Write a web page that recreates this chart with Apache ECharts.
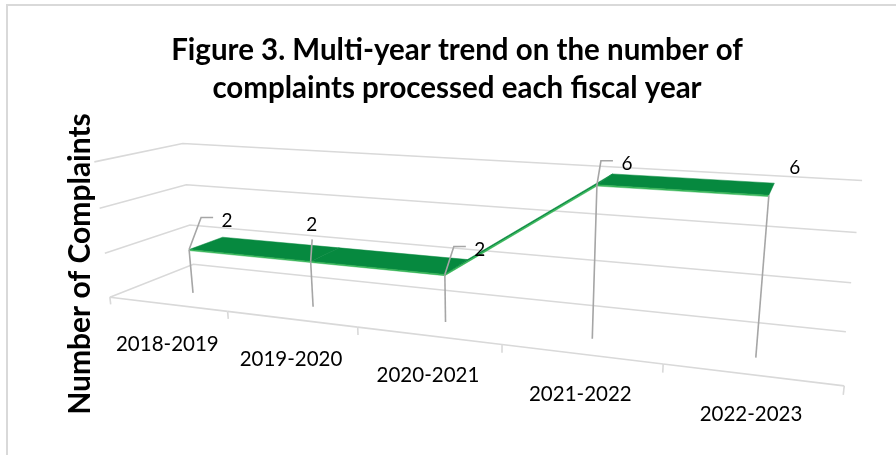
<!DOCTYPE html>
<html>
<head>
<meta charset="utf-8">
<script src="https://cdn.jsdelivr.net/npm/echarts@6/dist/echarts.min.js"></script>
<style>
  html, body { margin: 0; padding: 0; background: #ffffff; }
  #chart { width: 896px; height: 455px; }
</style>
</head>
<body>
<div id="chart"></div>
<script>
// ---- data ----
const categories = ['2018-2019', '2019-2020', '2020-2021', '2021-2022', '2022-2023'];
const complaints = [2, 2, 2, 6, 6];
const valueTicks = [0, 2, 4, 6];
const chartTitle = 'Figure 3. Multi-year trend on the number of\ncomplaints processed each fiscal year';
const valueAxisTitle = 'Number of Complaints';

// ---- 3D view ----
// The plot box uses unit coordinates: X across the categories, Y up the value
// axis, Z from the front of the floor (0) to the back wall (1). These are the
// screen positions of the box corners; a perspective matrix is fitted to them.
const boxCorners = [
  [0, 0, 0, 110, 297],
  [0, 0, 1, 193, 265],
  [0, 1, 0, 94, 162],
  [0, 1, 1, 183, 143],
  [1, 0, 1, 846, 331],
  [1, 1, 1, 862, 181],
  [1, 0, 0, 845, 386],
  [0.2, 0, 0, 228, 311],
  [0.4, 0, 0, 358, 327],
  [0.6, 0, 0, 502, 345],
  [0.8, 0, 0, 662, 364]
];

function fitPerspective(pairs) {
  const N = 11;
  const M = [];
  for (let i = 0; i < N; i++) M.push(new Array(N + 1).fill(0));
  const add = (r, b) => {
    for (let i = 0; i < N; i++) {
      for (let j = 0; j < N; j++) M[i][j] += r[i] * r[j];
      M[i][N] += r[i] * b;
    }
  };
  pairs.forEach(([X, Y, Z, u, v]) => {
    add([X, Y, Z, 1, 0, 0, 0, 0, -u * X, -u * Y, -u * Z], u);
    add([0, 0, 0, 0, X, Y, Z, 1, -v * X, -v * Y, -v * Z], v);
  });
  for (let c = 0; c < N; c++) {
    let piv = c;
    for (let r = c + 1; r < N; r++) if (Math.abs(M[r][c]) > Math.abs(M[piv][c])) piv = r;
    [M[c], M[piv]] = [M[piv], M[c]];
    for (let r = 0; r < N; r++) {
      if (r === c) continue;
      const f = M[r][c] / M[c][c];
      for (let k = c; k <= N; k++) M[r][k] -= f * M[c][k];
    }
  }
  return M.map((row, i) => row[N] / row[i]);
}
const P = fitPerspective(boxCorners);
function project(X, Y, Z) {
  const w = P[8] * X + P[9] * Y + P[10] * Z + 1;
  return [
    (P[0] * X + P[1] * Y + P[2] * Z + P[3]) / w,
    (P[4] * X + P[5] * Y + P[6] * Z + P[7]) / w
  ];
}

// ---- styling ----
const FONT = 'Lato, "Open Sans", sans-serif';
const GRID_COLOR = '#D9D9D9';
const LEADER_COLOR = '#A6A6A6';
const RIBBON_TOP = '#06893F';
const RIBBON_SIDE = '#35B456';
const RIBBON_FRONT = 0.30;   // depth of the ribbon's front edge
const RIBBON_BACK = 0.72;    // depth of the ribbon's back edge
const RIBBON_THICK = 0.008;  // ribbon thickness in value-axis units of the box
const labelOffsets = [[38, -29], [1, -37], [35, -25], [30, -21], [26, -27]];
const leaderKinds = ['stub', 'straight', 'stub', 'stub', 'none'];

// data value -> unit box coordinates through the hidden cartesian axes
function toUnit(params, api, idx, val) {
  const cs = params.coordSys;
  const p = api.coord([idx, val]);
  return [(p[0] - cs.x) / cs.width, (cs.y + cs.height - p[1]) / cs.height];
}

function lineEl(points, color, width) {
  return { type: 'polyline', shape: { points: points }, style: { stroke: color, lineWidth: width, fill: null } };
}

function renderWalls(params, api) {
  const Y = toUnit(params, api, 0, api.value(1))[1];
  return lineEl([project(0, Y, 0), project(0, Y, 1), project(1, Y, 1)], GRID_COLOR, 1.6);
}

function renderCategoryAxis(params, api) {
  const i = api.value(0);
  const cs = params.coordSys;
  const band = api.size([1, 0])[0];
  const cx = api.coord([i, 0])[0];
  const Xc = (cx - cs.x) / cs.width;
  const X0 = (cx - band / 2 - cs.x) / cs.width;
  const X1 = (cx + band / 2 - cs.x) / cs.width;
  const children = [
    lineEl([project(X0, 0, 0), project(X1, 0, 0)], GRID_COLOR, 1.6),
    lineEl([project(X0, 0, 0), project(X0, -0.055, 0)], GRID_COLOR, 1.6)
  ];
  if (i === categories.length - 1) {
    children.push(lineEl([project(X1, 0, 0), project(X1, -0.055, 0)], GRID_COLOR, 1.6));
  }
  const p = project(Xc, 0, 0);
  children.push({
    type: 'text', x: p[0], y: p[1] + 40,
    style: { text: categories[i], fontSize: 20.5, fontFamily: FONT, fill: '#000000', align: 'center', verticalAlign: 'middle' }
  });
  return { type: 'group', children: children };
}

function renderRibbon(params, api) {
  const i = api.value(0);
  if (i >= complaints.length - 1) return { type: 'group', children: [] };
  const a = toUnit(params, api, i, api.value(1));
  const b = toUnit(params, api, i + 1, complaints[i + 1]);
  const top = [
    project(a[0], a[1], RIBBON_FRONT), project(b[0], b[1], RIBBON_FRONT),
    project(b[0], b[1], RIBBON_BACK), project(a[0], a[1], RIBBON_BACK)
  ];
  const side = [
    project(a[0], a[1], RIBBON_FRONT), project(b[0], b[1], RIBBON_FRONT),
    project(b[0], b[1] - RIBBON_THICK, RIBBON_FRONT), project(a[0], a[1] - RIBBON_THICK, RIBBON_FRONT)
  ];
  return {
    type: 'group',
    children: [
      { type: 'polygon', shape: { points: top }, style: { fill: RIBBON_TOP, stroke: RIBBON_TOP, lineWidth: 0.5 } },
      { type: 'polygon', shape: { points: side }, style: { fill: RIBBON_SIDE, stroke: RIBBON_SIDE, lineWidth: 0.5 } }
    ]
  };
}

function renderValueLabels(params, api) {
  const i = api.value(0);
  const u = toUnit(params, api, i, api.value(1));
  const pt = project(u[0], u[1], RIBBON_FRONT);
  const base = project(u[0], 0, RIBBON_FRONT);
  const L = [pt[0] + labelOffsets[i][0], pt[1] + labelOffsets[i][1]];
  const children = [lineEl([pt, base], LEADER_COLOR, 1.6)];
  if (leaderKinds[i] === 'stub') {
    children.push(lineEl([pt, [L[0] - 26, L[1] - 3], [L[0] - 14, L[1] - 3]], LEADER_COLOR, 1.6));
  } else if (leaderKinds[i] === 'straight') {
    children.push(lineEl([pt, [pt[0] + 1.5, L[1] + 15]], LEADER_COLOR, 1.6));
  }
  children.push({
    type: 'text', x: L[0], y: L[1],
    style: { text: String(api.value(1)), fontSize: 19, fontFamily: FONT, fill: '#000000', align: 'center', verticalAlign: 'middle' }
  });
  return { type: 'group', children: children };
}

const chart = echarts.init(document.getElementById('chart'), null, { renderer: 'canvas' });
chart.setOption({
  animation: false,
  backgroundColor: '#ffffff',
  // hidden axes that turn values into unit box coordinates
  grid: { left: 0, top: 0, width: 600, height: 300, show: false },
  xAxis: { type: 'category', data: categories, boundaryGap: true, show: false },
  yAxis: { type: 'value', min: 0, max: 6, interval: 2, show: false },
  graphic: [
    { type: 'rect', shape: { x: 7, y: 5, width: 960, height: 520 }, style: { fill: null, stroke: GRID_COLOR, lineWidth: 2 }, silent: true },
    {
      type: 'text', x: 457, y: 69, silent: true,
      style: { text: chartTitle, fontSize: 29.5, fontWeight: 'bold', fontFamily: FONT, lineHeight: 38, fill: '#000000', align: 'center', verticalAlign: 'middle' }
    },
    {
      type: 'text', x: 80, y: 264, rotation: Math.PI / 2, silent: true,
      style: { text: valueAxisTitle, fontSize: 30, fontWeight: 'bold', fontFamily: FONT, fill: '#000000', align: 'center', verticalAlign: 'middle' }
    }
  ],
  series: [
    {
      type: 'custom', name: 'walls', silent: true, z: 1,
      data: valueTicks.map(v => [0, v]), encode: { x: 0, y: 1 },
      renderItem: renderWalls
    },
    {
      type: 'custom', name: 'categoryAxis', silent: true, z: 1,
      data: categories.map((c, i) => [i, 0]), encode: { x: 0, y: 1 },
      renderItem: renderCategoryAxis
    },
    {
      type: 'custom', name: 'ribbon', silent: true, z: 2,
      data: complaints.map((v, i) => [i, v]), encode: { x: 0, y: 1 },
      renderItem: renderRibbon
    },
    {
      type: 'custom', name: 'valueLabels', silent: true, z: 3,
      data: complaints.map((v, i) => [i, v]), encode: { x: 0, y: 1 },
      renderItem: renderValueLabels
    }
  ]
});
</script>
</body>
</html>
